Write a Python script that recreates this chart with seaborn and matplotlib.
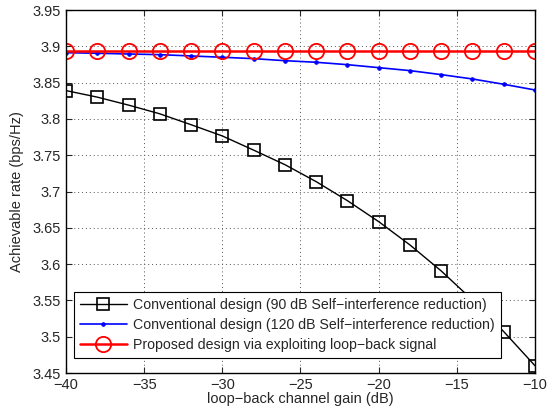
import numpy as np
import pandas as pd
import matplotlib
matplotlib.use("Agg")
import matplotlib.pyplot as plt
import seaborn as sns

gain_db = [-40, -38, -36, -34, -32, -30, -28, -26, -24, -22, -20, -18, -16, -14, -12, -10]
conv90 = [3.839, 3.830, 3.819, 3.807, 3.792, 3.7765, 3.757, 3.737, 3.7136, 3.6874, 3.6585,
          3.6264, 3.5906, 3.5505, 3.507, 3.460]
conv120 = [3.8912, 3.8904, 3.8894, 3.8885, 3.8867, 3.8849, 3.8830, 3.8802, 3.8780, 3.8747,
           3.8706, 3.8665, 3.8610, 3.8550, 3.8477, 3.8398]
proposed = [3.8935] * 16

labels = ["Conventional design (90 dB Self\u2212interference reduction)",
          "Conventional design (120 dB Self\u2212interference reduction)",
          "Proposed design via exploiting loop\u2212back signal"]
xticks = [-40, -35, -30, -25, -20, -15, -10]
yticks = [3.45, 3.5, 3.55, 3.6, 3.65, 3.7, 3.75, 3.8, 3.85, 3.9, 3.95]

sns.set_style("white")
plt.rcParams['font.family'] = ['Liberation Sans', 'DejaVu Sans']
plt.rcParams['axes.unicode_minus'] = True

fig = plt.figure(figsize=(5.49, 4.11), dpi=100)
ax = fig.add_axes([66/549, 1-373/411, 469/549, 363/411])

df = pd.DataFrame({"x": gain_db, "a": conv90, "b": conv120, "c": proposed})

sns.lineplot(data=df, x="x", y="a", ax=ax, color="black", marker="s", markersize=8,
             markerfacecolor="none", markeredgecolor="black", markeredgewidth=1.2,
             linewidth=1.0, label=labels[0])
sns.lineplot(data=df, x="x", y="b", ax=ax, color="blue", marker=".", markersize=5,
             markeredgecolor="blue", linewidth=1.2, label=labels[1])
sns.lineplot(data=df, x="x", y="c", ax=ax, color="red", marker="o", markersize=11,
             markerfacecolor="none", markeredgecolor="red", markeredgewidth=1.3,
             linewidth=1.8, label=labels[2])

ax.set_xlim(-40, -10)
ax.set_ylim(3.45, 3.95)
ax.set_xticks(xticks)
ax.set_yticks(yticks)
ax.set_xticklabels([f"\u2212{abs(t)}" for t in xticks])
ax.set_yticklabels([f"{t:g}" for t in yticks])
ax.tick_params(direction="in", length=4, labelsize=10.5, top=True, right=True,
               bottom=True, left=True, width=0.8)
ax.grid(True, linestyle=(0, (1, 3)), color="#555555", linewidth=0.7)
for s in ax.spines.values():
    s.set_color("black")
    s.set_linewidth(1.0)
ax.set_xlabel("loop\u2212back channel gain (dB)", fontsize=10.5, labelpad=0)
ax.set_ylabel("Achievable rate (bps/Hz)", fontsize=10.5, labelpad=6)

leg = ax.legend(loc="lower left", bbox_to_anchor=(0.017, 0.041), fontsize=10.2,
                handlelength=3.3, frameon=True, fancybox=False, edgecolor="black",
                framealpha=1, borderpad=0.42, labelspacing=0.42, borderaxespad=0,
                handletextpad=0.45)
leg.get_frame().set_linewidth(0.8)

fig.savefig("out.png", dpi=100)
